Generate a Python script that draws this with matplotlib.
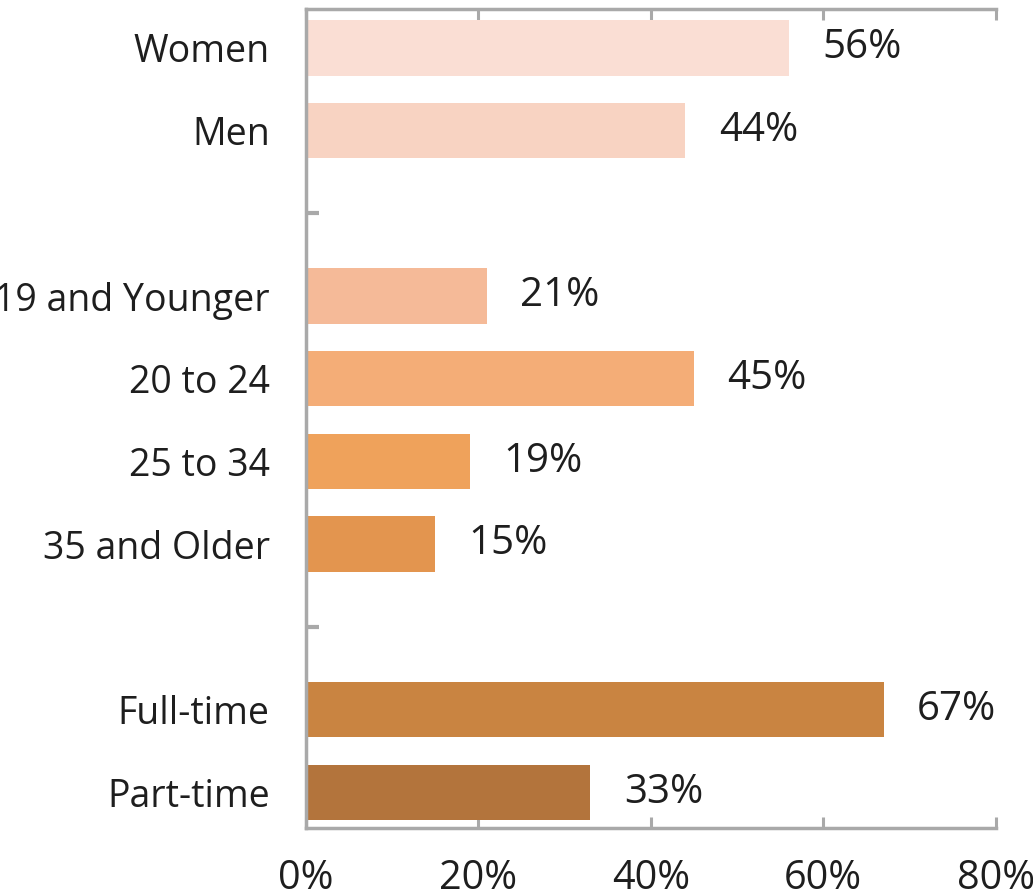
import matplotlib
matplotlib.use('Agg')
import matplotlib.pyplot as plt
from matplotlib.ticker import FixedLocator

# data (empty strings mark the gaps between groups)
categories = ["Women", "Men", "", "19 and Younger", "20 to 24", "25 to 34",
              "35 and Older", "", "Full-time", "Part-time"]
values = [56, 44, None, 21, 45, 19, 15, None, 67, 33]
colors = ["#FADED4", "#F8D3C2", None, "#F5BA98", "#F4AD77", "#EFA25B",
          "#E3954F", None, "#C98441", "#B3743C"]
xticks = [0, 20, 40, 60, 80]

plt.rcParams['font.family'] = ['Open Sans', 'DejaVu Sans']
grey = "#A9A9A9"
txt = "#1E1E1E"

fig = plt.figure(figsize=(10.33, 8.96), dpi=100)
ax = fig.add_axes([0.296, 0.076, 0.668, 0.914])

for i, (v, c) in enumerate(zip(values, colors)):
    if v is None:
        continue
    ax.barh(i, v, height=0.67, color=c, zorder=2)
    ax.annotate(f"{v}%", xy=(v, i), xytext=(24, 0), textcoords='offset points',
                va='center', ha='left', fontsize=29, color=txt)

ax.set_xlim(0, 80)
ax.set_ylim(9.43, -0.47)
ax.set_xticks(xticks)
ax.set_xticklabels([f"{t}%" for t in xticks], fontsize=28.5, color=txt)
ax.set_yticks(range(len(categories)))
ax.set_yticklabels(categories, fontsize=27, color=txt)
gaps = [i for i, v in enumerate(values) if v is None]
ax.yaxis.remove_overlapping_locs = False
ax.yaxis.set_minor_locator(FixedLocator(gaps))

ax.tick_params(axis='y', which='major', length=0, pad=26)
ax.tick_params(axis='y', which='minor', length=9, width=3, color=grey,
               direction='in')
ax.tick_params(axis='x', which='major', length=8, width=2.2, color=grey,
               direction='in', top=True, pad=22)

for s in ax.spines.values():
    s.set_color(grey)
    s.set_linewidth(2.5)
ax.spines['right'].set_visible(False)

plt.savefig('out.png', dpi=100, facecolor='white')
